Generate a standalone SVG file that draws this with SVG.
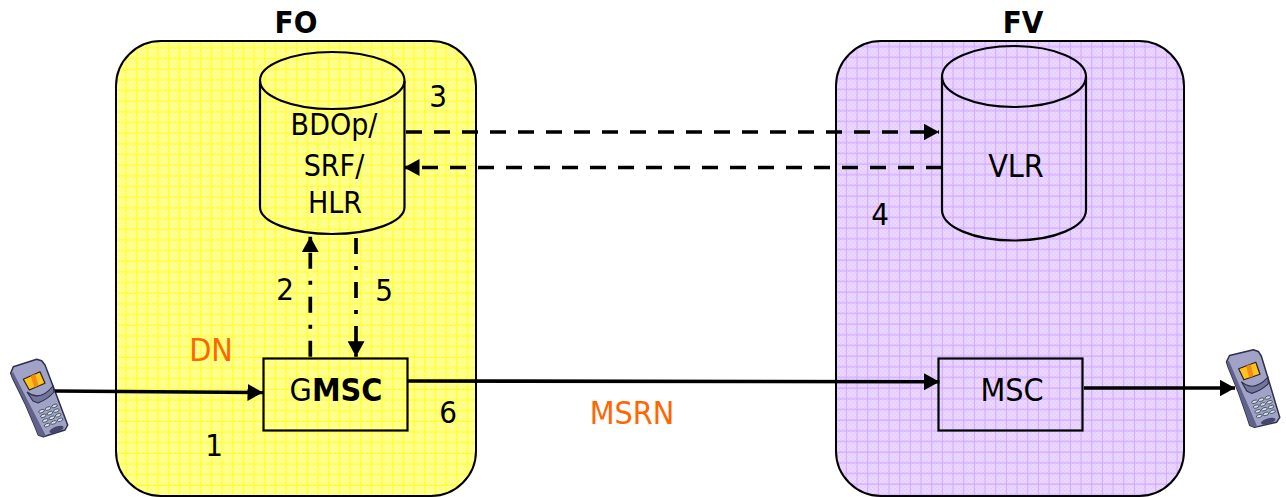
<svg xmlns="http://www.w3.org/2000/svg" width="1286" height="497" viewBox="0 0 1286 497">
<style>
text{font-family:"DejaVu Sans Condensed","DejaVu Sans",sans-serif;font-stretch:condensed;font-size:31px;fill:#000;text-anchor:middle}
.b{font-weight:bold}
.t{font-size:31px;font-weight:bold}
.n{font-size:32px}
.o{fill:#ff6600;font-size:32px}
.panel{stroke:#000;stroke-width:2;fill:none}
.shape{fill:none;stroke:#000;stroke-width:2.2}
.solid{fill:none;stroke:#000;stroke-width:3.6}
.dash{fill:none;stroke:#000;stroke-width:3.6;stroke-dasharray:16 12}
.dd{fill:none;stroke:#000;stroke-width:3.7;stroke-dasharray:16 12 4 12}
.key{fill:#cfe6dc;stroke:#33344f;stroke-width:.7}
</style>
<defs>
<pattern id="dy" width="4" height="4" patternUnits="userSpaceOnUse"><rect width="4" height="4" fill="#ffff80"/><rect width="2" height="2" fill="#ffff99"/><rect x="2" y="2" width="2" height="2" fill="#ffff99"/></pattern>
<pattern id="dv" width="4" height="4" patternUnits="userSpaceOnUse"><rect width="4" height="4" fill="#e6ceff"/><rect width="2" height="2" fill="#ebd8ff"/><rect x="2" y="2" width="2" height="2" fill="#ebd8ff"/></pattern>
<pattern id="gy" width="10.67" height="10.67" patternUnits="userSpaceOnUse"><path d="M0 5H10.67M8.700 0V10.67" stroke="#ffff00" stroke-width="1" stroke-opacity=".8" fill="none"/></pattern>
<pattern id="gv" width="10.67" height="10.67" patternUnits="userSpaceOnUse"><path d="M0 4H10.67M3.400 0V10.67" stroke="#cc99ff" stroke-width="1" stroke-opacity=".75" fill="none"/></pattern>
<marker id="ah" markerUnits="userSpaceOnUse" markerWidth="16" markerHeight="17" refX="15.500" refY="8.500" orient="auto"><path d="M0 0L15.500 8.500L0 17Z" fill="#000"/></marker>
<g id="phone">
<path d="M10.700 373.300L13.300 366.700L36.700 359.300L41.700 360.700L45 365L53.300 386.700L67.700 425L65 430L43.300 436.700L38.300 435L35 426.700L25 403.300L12.700 378.300Z" fill="#a0a2c8" stroke="#2e2f4a" stroke-width="1.500" stroke-linejoin="round"/>
<path d="M11 374L13 372L46 436L43 436.500L38.300 435L35 426.700L25 403.300L12.700 378.300Z" fill="#60628a"/>
<path d="M23.300 379.300L40 371.700L45 383.300L29.300 390Z" fill="#ffc21f" stroke="#2a2410" stroke-width="1.200" stroke-linejoin="round"/>
<path d="M30.500 376L35 374L38.500 385.500L34.500 387.500Z" fill="#f28c12"/>
<path d="M27 392Q40 402 53 386L54 392Q48 399 38 403L33 401Z" fill="#73759b" stroke="#2e2f4a" stroke-width="1.100"/>
<g transform="rotate(-22 51 416)">
<ellipse class="key" cx="44" cy="408" rx="3" ry="1.500"/><ellipse class="key" cx="51" cy="408" rx="3" ry="1.500"/><ellipse class="key" cx="58" cy="408" rx="3" ry="1.500"/>
<ellipse class="key" cx="44" cy="413" rx="3" ry="1.500"/><ellipse class="key" cx="51" cy="413" rx="3" ry="1.500"/><ellipse class="key" cx="58" cy="413" rx="3" ry="1.500"/>
<ellipse class="key" cx="44" cy="418" rx="3" ry="1.500"/><ellipse class="key" cx="51" cy="418" rx="3" ry="1.500"/><ellipse class="key" cx="58" cy="418" rx="3" ry="1.500"/>
<ellipse class="key" cx="44" cy="423" rx="3" ry="1.500"/><ellipse class="key" cx="51" cy="423" rx="3" ry="1.500"/><ellipse class="key" cx="58" cy="423" rx="3" ry="1.500"/>
</g>
<ellipse cx="56.500" cy="429.500" rx="7.500" ry="2.800" transform="rotate(-20 56.500 429.500)" fill="#44466a"/>
</g>
</defs>
<g id="panel-fo"><rect x="116" y="41" width="360" height="455" rx="45" fill="url(#dy)"/><rect x="116" y="41" width="360" height="455" rx="45" fill="url(#gy)"/><rect class="panel" x="116" y="41" width="360" height="455" rx="45"/><text class="t" x="296" y="33">FO</text></g>
<g id="panel-fv"><rect x="836" y="41" width="348" height="455" rx="45" fill="url(#dv)"/><rect x="836" y="41" width="348" height="455" rx="45" fill="url(#gv)"/><rect class="panel" x="836" y="41" width="348" height="455" rx="45"/><text class="t" x="1023" y="33">FV</text></g>
<g id="node-hlr"><path class="shape" d="M260 81V207C260 222 292 234 332 234S404.500 222 404.500 207V81"/><ellipse class="shape" cx="332.250" cy="80.500" rx="72.250" ry="28.500"/><text x="334" y="135" style="font-size:30px">BDOp/</text><text x="334" y="176" style="font-size:30px">SRF/</text><text x="335" y="213" style="font-size:30px">HLR</text></g>
<g id="node-vlr"><path class="shape" d="M942 77V210C942 227 974 240.500 1014 240.500S1086 227 1086 210V77"/><ellipse class="shape" cx="1014" cy="76.500" rx="72" ry="30.500"/><text class="n" x="1016" y="177">VLR</text></g>
<g id="node-gmsc"><rect class="shape" x="263.500" y="358.500" width="144" height="72"/><text class="n" x="336" y="401">G<tspan class="b">MSC</tspan></text></g>
<g id="node-msc"><rect class="shape" x="938.500" y="358.500" width="144" height="72"/><text class="n" x="1012" y="401">MSC</text></g>
<g id="phone-a"><use href="#phone"/></g>
<g id="phone-b"><use href="#phone" transform="translate(1214 -9.500) rotate(4 39.500 398)"/></g>
<g id="connectors">
<path class="solid" d="M55 391L263 392.500" marker-end="url(#ah)"/>
<path class="solid" d="M408 381L939.500 381.800" marker-end="url(#ah)"/>
<path class="solid" d="M1084 388L1235 388" marker-end="url(#ah)"/>
<path class="dash" d="M406 132L939 132" marker-end="url(#ah)"/>
<path class="dash" d="M942 167.500L404 167.500" marker-end="url(#ah)"/>
<path class="dd" d="M310.300 356.700L310.300 236.700" marker-end="url(#ah)"/>
<path class="dd" d="M356 238L356 356.700" marker-end="url(#ah)"/>
</g>
<g id="labels">
<text x="438" y="107">3</text><text x="880" y="225">4</text><text x="285" y="300">2</text><text x="384" y="301">5</text><text x="214" y="456">1</text><text x="448" y="423">6</text>
<text class="o" x="211" y="361">DN</text><text class="o" x="632" y="424">MSRN</text>
</g>
</svg>
